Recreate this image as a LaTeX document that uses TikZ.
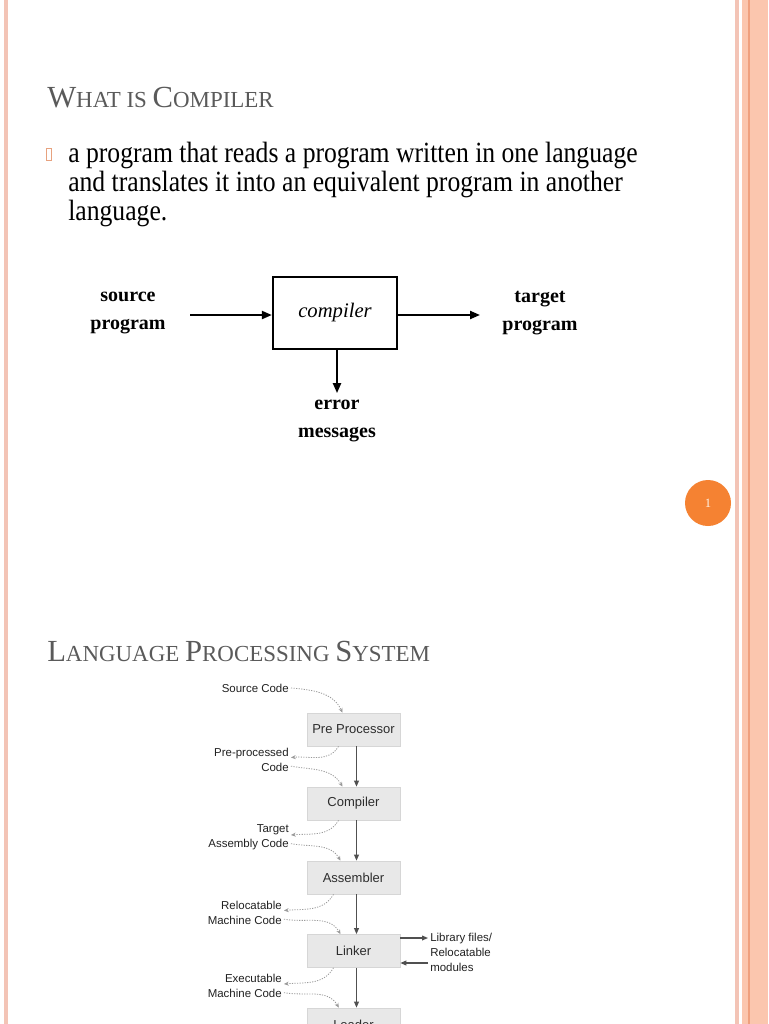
\documentclass[tikz,border=0pt]{standalone}
\usepackage{fontspec}
\setmainfont{Liberation Serif}
\newfontfamily\bodyfont[FakeStretch=0.875]{Liberation Serif}
\newfontfamily\diafont{Liberation Serif}
\newfontfamily\lpsfont{Liberation Sans}
\usetikzlibrary{arrows.meta}
\definecolor{titlegray}{HTML}{5A5A5A}
\definecolor{borderpink}{HTML}{F3C4B6}
\definecolor{bandpeach}{HTML}{FBC6AE}
\definecolor{banddark}{HTML}{EFA07E}
\definecolor{pageorange}{HTML}{F58232}
\definecolor{bulletorange}{HTML}{E7A27F}
\definecolor{boxgray}{HTML}{E8E8E8}
\definecolor{boxedge}{HTML}{D6D6D6}
\definecolor{flowgray}{HTML}{505050}
\definecolor{dotgray}{HTML}{9A9A9A}
\definecolor{lpstext}{HTML}{222222}
\newcommand\capA[1]{{\fontsize{23pt}{26pt}\selectfont #1}}
\newcommand\capB[1]{{\fontsize{17.2pt}{26pt}\selectfont #1}}
\tikzset{
  titletext/.style={anchor=base west, text=titlegray, inner sep=0pt},
  bodytext/.style={anchor=base west, inner sep=0pt, font=\bodyfont\fontsize{22pt}{24pt}\selectfont},
  difont/.style={font=\diafont\bfseries\fontsize{15pt}{21pt}\selectfont, align=center, inner sep=1pt},
  thickarr/.style={line width=1.6pt, -{Triangle[length=7.5pt,width=6pt]}},
  lpsbox/.style={fill=boxgray, draw=boxedge, line width=0.5pt, minimum width=69.75pt, minimum height=24.75pt,
    inner sep=0pt, text=lpstext!95, font=\lpsfont\fontsize{9.75pt}{11pt}\selectfont},
  lpslabel/.style={text=lpstext, inner sep=1.5pt, align=right, font=\lpsfont\fontsize{8.6pt}{11.25pt}\selectfont},
  flowarr/.style={draw=flowgray, line width=0.9pt, -{Triangle[length=4.5pt,width=3.6pt]}},
  dotarr/.style={draw=dotgray, line width=0.6pt, dash pattern=on 0.9pt off 1pt, -{Stealth[length=3.5pt,width=3pt]}}
}
\begin{document}
\begin{tikzpicture}[x=0.75pt, y=-0.75pt]
\useasboundingbox (0,0) rectangle (768,1024);
\clip (0,0) rectangle (768,1024);
\fill[white] (0,0) rectangle (768,1024);
% borders
\fill[borderpink] (4,0) rectangle (8,1024);
\fill[borderpink] (735,0) rectangle (738.5,1024);
\fill[bandpeach] (742,0) rectangle (768,1024);
\draw[banddark, line width=0.8pt] (749,0) -- (749,1024);

% slide 1
\node[titletext] (t1) at (47,108) {\capA{W}\capB{HAT IS }\capA{C}\capB{OMPILER}};
\node[draw=bulletorange, line width=0.6pt, minimum width=3.75pt, minimum height=9pt, inner sep=0pt] (bul) at (48.5,154) {};
\node[bodytext] (b1) at (68,162) {a program that reads a program written in one language};
\node[bodytext] (b2) at (68,191) {and translates it into an equivalent program in another};
\node[bodytext] (b3) at (68,220) {language.};

\node[draw, line width=1.7pt, minimum width=93pt, minimum height=54pt, inner sep=0pt,
  font=\diafont\itshape\fontsize{15.5pt}{18pt}\selectfont] (comp) at (335,313) {compiler};
\node[difont] (src) at (128,313) {source\\program};
\node[difont] (tgt) at (540,313) {target\\program};
\node[difont] (err) at (337,421) {error\\messages};
\coordinate (inS) at (190,315);
\coordinate (outT) at (480,315);
\draw[thickarr] (inS) -- (inS -| comp.west);
\draw[thickarr] (outT -| comp.east) -- (outT);
\draw[thickarr, shorten >=4pt] ([xshift=1.5pt]comp.south) -- ([xshift=1.5pt]comp.south |- err.north);

\node[circle, fill=pageorange, minimum size=34.5pt, inner sep=0pt, text=white!90!orange,
  font=\fontsize{9.5pt}{10pt}\selectfont] (pg) at (708,503) {1};

% slide 2
\node[titletext] (t2) at (47,661) {\capA{L}\capB{ANGUAGE }\capA{P}\capB{ROCESSING }\capA{S}\capB{YSTEM}};

\node[lpsbox] (pp) at (353.5,729.5) {Pre Processor};
\node[lpsbox] (cc) at (353.5,803.5) {Compiler};
\node[lpsbox] (as) at (353.5,877.5) {Assembler};
\node[lpsbox] (lk) at (353.5,951) {Linker};
\node[lpsbox] (ld) at (353.5,1024.5) {Loader};

\draw[flowarr] ([xshift=2.25pt]pp.south) -- ([xshift=2.25pt]cc.north);
\draw[flowarr] ([xshift=2.25pt]cc.south) -- ([xshift=2.25pt]as.north);
\draw[flowarr] ([xshift=2.25pt]as.south) -- ([xshift=2.25pt]lk.north);
\draw[flowarr] ([xshift=2.25pt]lk.south) -- ([xshift=2.25pt]ld.north);

\node[lpslabel, anchor=east] (lsrc) at (291,688) {Source Code};
\node[lpslabel, anchor=east] (lpre) at (291,759.5) {Pre-processed\\Code};
\node[lpslabel, anchor=east] (ltgt) at (291,837) {Target\\Assembly Code};
\node[lpslabel, anchor=east] (lrel) at (284,912.5) {Relocatable\\Machine Code};
\node[lpslabel, anchor=east] (lexe) at (284,986) {Executable\\Machine Code};
\node[lpslabel, anchor=west, align=left] (llib) at (428,952) {Library files/\\Relocatable\\modules};

\draw[dotarr] (lsrc.east) to[out=-5, in=115] ([xshift=-8.25pt]pp.north);
\draw[dotarr] ([xshift=-11.25pt]pp.south) to[out=-120, in=5] ([yshift=1.5pt]lpre.east);
\draw[dotarr] ([yshift=-5pt]lpre.east) to[out=-10, in=120] ([xshift=-8.25pt]cc.north);
\draw[dotarr] ([xshift=-11.25pt]cc.south) to[out=-120, in=5] ([yshift=1.5pt]ltgt.east);
\draw[dotarr] ([yshift=-5pt]ltgt.east) to[out=-10, in=120] ([xshift=-9.75pt]as.north);
\draw[dotarr] ([xshift=-15pt]as.south) to[out=-120, in=5] ([yshift=1.5pt]lrel.east);
\draw[dotarr] ([yshift=-5pt]lrel.east) to[out=-10, in=120] ([xshift=-9.75pt]lk.north);
\draw[dotarr] ([xshift=-15pt]lk.south) to[out=-120, in=5] ([yshift=1.5pt]lexe.east);
\draw[dotarr] ([yshift=-5pt]lexe.east) to[out=-10, in=120] ([xshift=-11pt]ld.north);

\draw[flowarr] ([yshift=9.75pt]lk.east) -- ([yshift=9.75pt]lk.east -| llib.west);
\draw[flowarr] ([yshift=-9pt]lk.east -| llib.west) -- ([yshift=-9pt]lk.east);
\end{tikzpicture}
\end{document}
